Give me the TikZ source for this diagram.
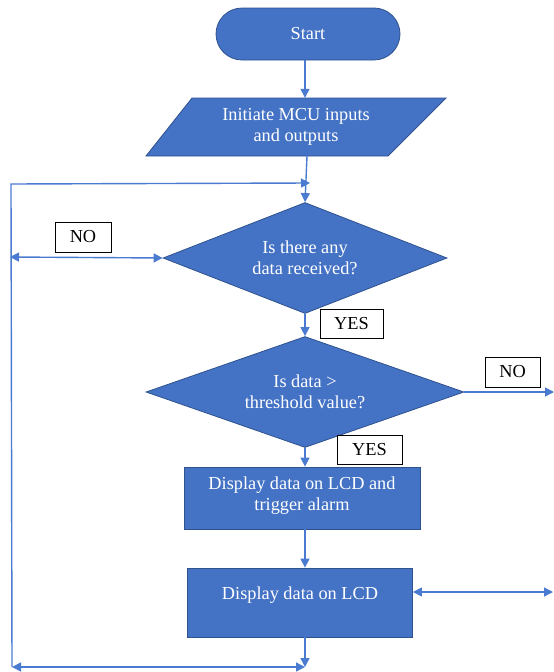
\documentclass[tikz,border=0pt]{standalone}
\usepackage{fontspec}
\setmainfont{Liberation Serif}
\usetikzlibrary{shapes.geometric,arrows.meta}
\definecolor{fillblue}{HTML}{4472C4}
\definecolor{edgeblue}{HTML}{2F528F}
\definecolor{lineblue}{HTML}{4A7BD0}
\begin{document}
\begin{tikzpicture}[x=1pt,y=-1pt,
  every node/.style={font=\fontsize{18.3}{21}\selectfont},
  >={Triangle[length=9pt,width=9pt]},
  blk/.style={draw=edgeblue, fill=fillblue, text=white, line width=0.8pt, align=center, inner sep=0pt},
  lbl/.style={draw=black, fill=white, line width=1pt, inner sep=0pt},
  conn/.style={draw=lineblue, line width=1.4pt, ->},
]
\useasboundingbox (0,0) rectangle (554,672);

% Start
\node[blk, rounded corners=26pt, minimum width=184pt, minimum height=52pt] (start) at (308,34) {Start};

% Parallelogram
\draw[draw=edgeblue, fill=fillblue, line width=0.8pt] (192,98) -- (446,98) -- (388,156) -- (146,156) -- cycle;
\node[text=white, align=center, inner sep=0pt, minimum width=200pt, minimum height=58pt] (init) at (296,127) {Initiate MCU inputs\\and outputs};

% Decisions
\node[blk, diamond, shape aspect=2.5, minimum width=284pt, minimum height=111pt] (d1) at (305,258) {Is there any\\data received?};
\node[blk, diamond, shape aspect=2.8, minimum width=318pt, minimum height=111pt] (d2) at (305,392) {Is data \textgreater\\threshold value?};

% Process boxes
\node[blk, minimum width=236pt, minimum height=62pt] (box3) at (302,498)
  {\raisebox{-2pt}[0pt][0pt]{\begin{tabular}{@{}c@{}}Display data on LCD and\\trigger alarm\end{tabular}}};
\node[blk, minimum width=225pt, minimum height=69pt] (box4) at (300,602.5)
  {\raisebox{3pt}[0pt][0pt]{Display data on LCD}};

% Labels
\node[lbl, minimum width=56pt, minimum height=30pt] (no1) at (83,237) {NO};
\node[lbl, minimum width=63pt, minimum height=29pt] (yes1) at (351.5,324) {YES};
\node[lbl, minimum width=55pt, minimum height=30pt] (no2) at (512.5,372) {NO};
\node[lbl, minimum width=65pt, minimum height=29pt] (yes2) at (369.5,449.5) {YES};

% Coordinates
\coordinate (j1) at (307,183);
\coordinate (tl) at (11,184);
\coordinate (bl) at (12,667);
\coordinate (bm) at (305,667);
\coordinate (nl) at (10,257);
\coordinate (r1) at (554,392);
\coordinate (r2) at (553,592);

% Connectors
\draw[conn] ([xshift=-3pt]start.south) -- ([xshift=-3pt]start.south |- init.north);
\draw[conn] (j1 |- init.south) -- (d1.north);
\draw[conn] (bl) -- (tl) -- ([xshift=3pt]j1);
\draw[conn,<->] (nl) -- (d1.west);
\draw[conn] (d1.south) -- (d2.north);
\draw[conn] (d2.east) -- (r1);
\draw[conn] (d2.south) -- (d2.south |- box3.north);
\draw[conn] (d2.south |- box3.south) -- (d2.south |- box4.north);
\draw[conn,<->] (box4.east |- r2) -- (r2);
\draw[conn] (bm |- box4.south) -- (bm);
\draw[conn,<->] (bl) -- (bm);
\end{tikzpicture}
\end{document}
